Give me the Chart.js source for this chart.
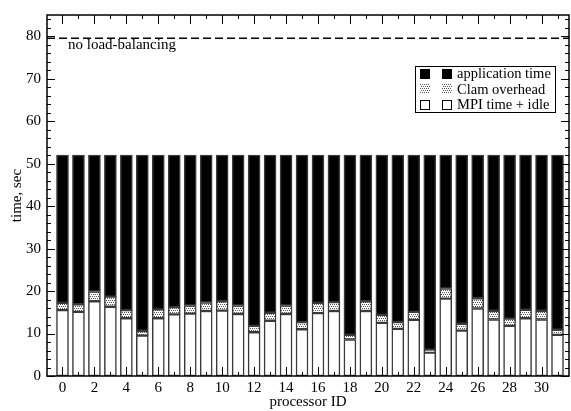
<!DOCTYPE html>
<html><head><meta charset="utf-8">
<script src="https://cdn.jsdelivr.net/npm/chart.js@4/dist/chart.umd.min.js"></script>
<style>html,body{margin:0;padding:0;background:#fff}#wrap{width:571px;height:411px;position:relative}</style>
</head><body><div id="wrap"><canvas id="c" width="571" height="411"></canvas></div>
<script>
const processorIds = [0,1,2,3,4,5,6,7,8,9,10,11,12,13,14,15,16,17,18,19,20,21,22,23,24,25,26,27,28,29,30,31];
const mpiIdle = [15.5,15.1,17.6,16.3,13.6,9.5,13.6,14.5,14.7,15.3,15.4,14.6,10.3,13.0,14.6,11.0,14.8,15.3,8.6,15.3,12.5,11.1,13.2,5.5,18.2,10.7,15.9,13.3,11.8,13.6,13.3,9.7];
const clamOverhead = [1.7,1.8,2.3,2.4,1.9,1.1,2.1,1.7,1.9,2.0,2.2,2.0,1.5,1.9,2.0,1.7,2.4,2.1,1.1,2.3,1.9,1.6,1.9,0.7,2.4,1.6,2.4,2.0,1.7,2.0,2.0,1.2];
const appTime = [34.8,35.1,32.1,33.3,36.5,41.4,36.3,35.8,35.4,34.7,34.4,35.4,40.2,37.1,35.4,39.3,34.8,34.6,42.3,34.4,37.6,39.3,36.9,45.8,31.4,39.7,33.7,36.7,38.5,36.4,36.7,41.1];
const noLoadBalancing = 79.5;
const xTickLabels = [0,2,4,6,8,10,12,14,16,18,20,22,24,26,28,30];
const yTickLabels = [0,10,20,30,40,50,60,70,80];
const X_MIN = -0.97, X_MAX = 31.72, Y_MIN = 0, Y_MAX = 85;

const FONT = "'Liberation Serif','Times New Roman',serif";
Chart.defaults.font.family = FONT;
Chart.defaults.color = '#000';

const canvas = document.getElementById('c');
const ctx0 = canvas.getContext('2d');
const tile = document.createElement('canvas'); tile.width = 4; tile.height = 4;
const tg = tile.getContext('2d');
tg.fillStyle = '#fff'; tg.fillRect(0,0,4,4);
tg.fillStyle = '#555';
[[0,0],[2,0],[1,2],[3,2]].forEach(([a,b]) => tg.fillRect(a,b,1,1));
const stipple = ctx0.createPattern(tile, 'repeat');

const toPts = arr => processorIds.map((p,i) => ({x:p, y:arr[i]}));
const barCommon = {barThickness: 12, borderWidth: 1.5, borderColor: '#3a3a3a', borderSkipped: false, stack: 'bars'};

const legendItems = [
  {label: 'application time', fill: '#000', border: '#000'},
  {label: 'Clam overhead', fill: stipple, border: null},
  {label: 'MPI time + idle', fill: '#fff', border: '#000'}
];

const decor = {
  id: 'decor',
  afterDatasetsDraw(chart) {
    const {ctx, chartArea: a, scales: {x, y}} = chart;
    ctx.save();
    ctx.strokeStyle = '#000';
    ctx.lineWidth = 1;
    ctx.beginPath();
    for (let v = Math.ceil(X_MIN); v <= Math.floor(X_MAX); v++) {
      const px = Math.round(x.getPixelForValue(v)) + 0.5;
      const len = v % 2 === 0 ? 9 : 4;
      ctx.moveTo(px, a.bottom); ctx.lineTo(px, a.bottom - len);
      ctx.moveTo(px, a.top); ctx.lineTo(px, a.top + len);
    }
    for (let v = Y_MIN; v <= Y_MAX; v += 2) {
      const py = Math.round(y.getPixelForValue(v)) + 0.5;
      const len = v % 10 === 0 ? 8 : 4;
      ctx.moveTo(a.left, py); ctx.lineTo(a.left + len, py);
      ctx.moveTo(a.right, py); ctx.lineTo(a.right - len, py);
    }
    ctx.stroke();
    ctx.lineWidth = 1.5;
    ctx.strokeRect(a.left, a.top, a.right - a.left, a.bottom - a.top);

    ctx.fillStyle = '#000';
    ctx.font = '15px ' + FONT;
    ctx.textBaseline = 'middle';
    ctx.textAlign = 'left';
    ctx.fillText('no load-balancing', a.left + 21, y.getPixelForValue(noLoadBalancing) + 7);

    // legend
    const lx = 415, ly = 66, lw = 140, lh = 46;
    ctx.fillStyle = '#fff';
    ctx.fillRect(lx, ly, lw, lh);
    ctx.lineWidth = 1;
    ctx.strokeStyle = '#000';
    ctx.strokeRect(lx + 0.5, ly + 0.5, lw, lh);
    ctx.font = '14.5px ' + FONT;
    legendItems.forEach((it, i) => {
      const cy = 74 + i * 15.3;
      [420, 442].forEach(sx => {
        ctx.fillStyle = it.fill;
        ctx.fillRect(sx, Math.round(cy - 5), 10, 10);
        if (it.border) { ctx.strokeStyle = it.border; ctx.strokeRect(sx + 0.5, Math.round(cy - 5) + 0.5, 9, 9); }
      });
      ctx.fillStyle = '#000';
      ctx.fillText(it.label, 457, cy + 0.5);
    });
    ctx.restore();
  }
};

new Chart(canvas, {
  type: 'bar',
  data: {
    datasets: [
      {type: 'line', label: 'no load-balancing', data: [{x: X_MIN, y: noLoadBalancing}, {x: X_MAX, y: noLoadBalancing}], borderColor: '#000', borderWidth: 1.5, borderDash: [8, 4], pointRadius: 0, stack: 'ref', order: 0},
      Object.assign({label: 'MPI time + idle', data: toPts(mpiIdle), backgroundColor: '#fff'}, barCommon),
      Object.assign({label: 'Clam overhead', data: toPts(clamOverhead), backgroundColor: stipple}, barCommon),
      Object.assign({label: 'application time', data: toPts(appTime), backgroundColor: '#000'}, barCommon)
    ]
  },
  options: {
    responsive: false,
    animation: false,
    events: [],
    layout: {padding: {top: 8, right: 2, left: 0, bottom: 0}},
    plugins: {legend: {display: false}, tooltip: {enabled: false}},
    scales: {
      x: {
        type: 'linear', stacked: true, offset: false, min: X_MIN, max: X_MAX,
        grid: {display: false, drawTicks: false, offset: false}, border: {display: false},
        afterBuildTicks: s => { s.ticks = xTickLabels.map(v => ({value: v})); },
        ticks: {font: {size: 15}, padding: 3, maxRotation: 0, autoSkip: false, callback: v => String(v)},
        title: {display: true, text: 'processor ID', font: {size: 15}, padding: {top: 0, bottom: 0}},
        afterFit: s => { s.height = 35; }
      },
      y: {
        type: 'linear', stacked: true, min: Y_MIN, max: Y_MAX,
        grid: {display: false, drawTicks: false}, border: {display: false},
        afterBuildTicks: s => { s.ticks = yTickLabels.map(v => ({value: v})); },
        ticks: {font: {size: 15}, padding: 6, callback: v => String(v)},
        title: {display: true, text: 'time, sec', font: {size: 15}, padding: {top: 8, bottom: 0}},
        afterFit: s => { s.width = 47; }
      }
    }
  },
  plugins: [decor]
});
</script></body></html>
